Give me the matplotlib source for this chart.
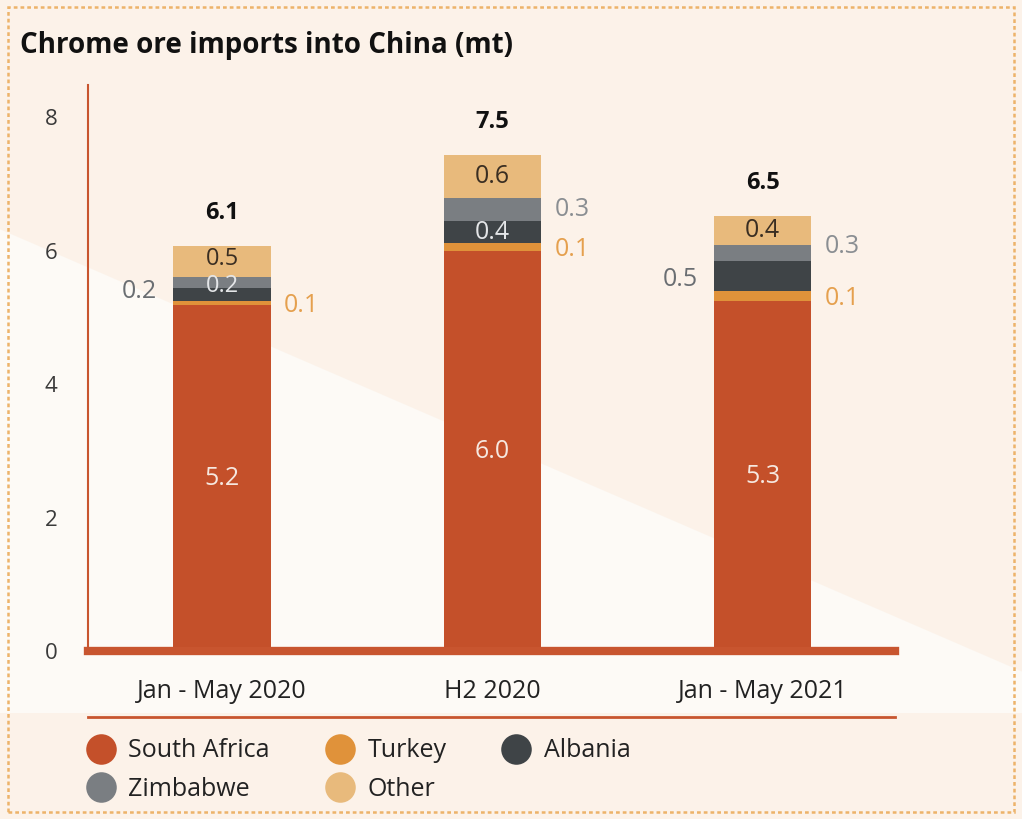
import matplotlib.pyplot as plt
import numpy as np
from matplotlib.lines import Line2D
from matplotlib.patches import Polygon, Rectangle

plt.rcParams["font.family"] = ["Open Sans", "DejaVu Sans"]

categories = ["Jan - May 2020", "H2 2020", "Jan - May 2021"]
series = ["South Africa", "Turkey", "Albania", "Zimbabwe", "Other"]
south_africa = [5.18, 5.99, 5.24]
turkey = [0.06, 0.13, 0.15]
albania = [0.2, 0.33, 0.45]
zimbabwe = [0.17, 0.34, 0.25]
other = [0.46, 0.64, 0.43]
totals = ["6.1", "7.5", "6.5"]
labels = {
    "South Africa": ["5.2", "6.0", "5.3"],
    "Turkey": ["0.1", "0.1", "0.1"],
    "Albania": ["0.2", "0.4", "0.5"],
    "Zimbabwe": ["0.2", "0.3", "0.3"],
    "Other": ["0.5", "0.6", "0.4"],
}
colors = ["#C4502A", "#E0923A", "#3F4447", "#7A7E82", "#E8BA7C"]
accent = "#C8552F"
fs = 18

fig = plt.figure(figsize=(10.22, 8.19), dpi=100)
fig.patch.set_facecolor("#FDFAF6")

# soft diagonal backdrop (behind the axes)
fig.patches.append(Polygon([[0, 1], [1, 1], [1, 0.18], [0, 0.72]], closed=True,
                           transform=fig.transFigure, facecolor="#FBEADB",
                           alpha=0.45, edgecolor="none", zorder=-10))
fig.patches.append(Polygon([[0, 0.13], [1, 0.13], [1, 0.0], [0, 0.0]], closed=True,
                           transform=fig.transFigure, facecolor="#FBEADB",
                           alpha=0.45, edgecolor="none", zorder=-10))
fig.patches.append(Rectangle((0.008, 0.009), 0.984, 0.983, transform=fig.transFigure,
                             fill=False, edgecolor="#EDB36A", linewidth=1.8,
                             linestyle=(0, (1.5, 1.2)), zorder=1))

ax = fig.add_axes([0.0861, 0.2051, 0.7896, 0.691])
ax.set_facecolor("none")
ax.set_zorder(2)

x = np.arange(len(categories))
width = 0.36
data = [south_africa, turkey, albania, zimbabwe, other]
bottom = np.zeros(len(categories))
bottoms = []
for vals, col, name in zip(data, colors, series):
    ax.bar(x, vals, width, bottom=bottom, color=col, zorder=3)
    bottoms.append(bottom.copy())
    bottom += np.array(vals)

tops = bottom
other_nudge = [0.04, 0, 0]
for i in range(len(categories)):
    ax.text(x[i], south_africa[i] / 2, labels["South Africa"][i], ha="center",
            va="center", color="#F6E8E0", fontsize=fs, zorder=4)
    ax.text(x[i], bottoms[4][i] + other[i] / 2 + other_nudge[i], labels["Other"][i],
            ha="center", va="center", color="#3A2E22",
            fontsize=fs - 1 if i == 0 else fs, zorder=4)
    ax.text(x[i] + width / 2 + 0.05, bottoms[1][i] + turkey[i] / 2 - 0.04,
            labels["Turkey"][i], ha="left", va="center", color="#E5A04E",
            fontsize=fs, zorder=4)
    ax.text(x[i], tops[i] + 0.5, totals[i], ha="center", va="center",
            color="#111111", fontsize=fs - 1, fontweight="bold", zorder=4)

# Albania / Zimbabwe labels
ax.text(x[0] - width / 2 - 0.06, bottoms[2][0] + albania[0] / 2 + 0.05,
        labels["Albania"][0], ha="right", va="center", color="#6A6E72", fontsize=fs)
ax.text(x[0], bottoms[3][0] + zimbabwe[0] / 2 - 0.06, labels["Zimbabwe"][0],
        ha="center", va="center", color="#E4E6E8", fontsize=fs - 1, zorder=4)
ax.text(x[1], bottoms[2][1] + albania[1] / 2 - 0.02, labels["Albania"][1],
        ha="center", va="center", color="#E4E6E8", fontsize=fs, zorder=4)
ax.text(x[1] + width / 2 + 0.05, bottoms[3][1] + zimbabwe[1] / 2,
        labels["Zimbabwe"][1], ha="left", va="center", color="#8A8E92", fontsize=fs)
ax.text(x[2] - width / 2 - 0.06, bottoms[2][2] + albania[2] / 2 - 0.05,
        labels["Albania"][2], ha="right", va="center", color="#6A6E72", fontsize=fs)
ax.text(x[2] + width / 2 + 0.05, bottoms[3][2] + zimbabwe[2] / 2 + 0.1,
        labels["Zimbabwe"][2], ha="left", va="center", color="#8A8E92", fontsize=fs)

ax.set_xlim(-0.496, 2.49)
ax.set_ylim(0, 8.48)
ax.set_xticks(x)
ax.set_xticklabels(categories)
ax.set_yticks([0, 2, 4, 6, 8])
ax.tick_params(axis="y", length=0, pad=22, labelsize=16, labelcolor="#3A3A3A")
ax.tick_params(axis="x", length=0, pad=20, labelsize=fs, labelcolor="#222222")
for s in ["top", "right"]:
    ax.spines[s].set_visible(False)
ax.spines["left"].set_color(accent)
ax.spines["left"].set_linewidth(1.5)
ax.spines["bottom"].set_color(accent)
ax.spines["bottom"].set_linewidth(6)
ax.spines["bottom"].set_zorder(5)

fig.text(0.02, 0.945, "Chrome ore imports into China (mt)", fontsize=20,
         fontweight="bold", color="#111111", ha="left", va="center")

fig.add_artist(Line2D([0.0861, 0.8757], [0.1245, 0.1245], transform=fig.transFigure,
                      color=accent, linewidth=2))

handles = [Line2D([], [], marker="o", linestyle="none", markersize=22,
                  markerfacecolor=c, markeredgecolor="none") for c in colors]
order = [0, 3, 1, 4, 2]
leg = fig.legend([handles[i] for i in order], [series[i] for i in order],
                 loc="upper left", bbox_to_anchor=(0.062, 0.126), ncol=3,
                 frameon=False, fontsize=fs, handletextpad=0.5,
                 columnspacing=2.2, labelspacing=0.55, handlelength=1.2)
for t in leg.get_texts():
    t.set_color("#222222")

fig.savefig("out.png", dpi=100, facecolor=fig.get_facecolor())
